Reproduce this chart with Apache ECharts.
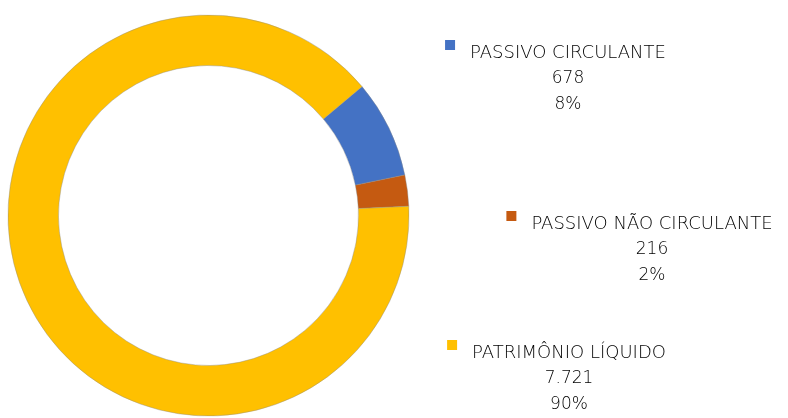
<!DOCTYPE html>
<html>
<head>
<meta charset="utf-8">
<script src="https://cdn.jsdelivr.net/npm/echarts@6/dist/echarts.min.js"></script>
<style>
  html, body { margin: 0; padding: 0; background: #ffffff; }
  #chart { width: 788px; height: 418px; }
</style>
</head>
<body>
<div id="chart"></div>
<script>
// Balance sheet composition (liabilities + equity)
const categories = ['PASSIVO CIRCULANTE', 'PASSIVO NÃO CIRCULANTE', 'PATRIMÔNIO LÍQUIDO'];
const values = [678, 216, 7721];
const percentLabels = ['8%', '2%', '90%'];
const colors = ['#4472C4', '#C55A11', '#FFC000'];

// where each label block sits (centre x, middle-line y)
const labelSpots = [[568, 79], [652, 250], [569, 379]];

const fmtNumber = v => v.toLocaleString('pt-BR');

const chart = echarts.init(document.getElementById('chart'), null, { renderer: 'canvas' });

chart.setOption({
  animation: false,
  series: [{
    type: 'pie',
    center: [208.5, 215.5],
    radius: [150, 200.5],
    startAngle: 40,
    clockwise: true,
    avoidLabelOverlap: false,
    data: categories.map((name, i) => ({
      name,
      value: values[i],
      itemStyle: { color: colors[i] },
      label: {
        rich: {
          sq: { width: 10, height: 10, backgroundColor: colors[i], verticalAlign: 'top' },
          gap: { width: 15 },
          blank: { width: 10 },
          n: { fontSize: 18 },
          v: { fontSize: 17 }
        }
      }
    })),
    itemStyle: { borderColor: 'rgba(140,140,140,0.7)', borderWidth: 0.6 },
    label: {
      show: true,
      position: 'outside',
      color: '#000000',
      fontFamily: 'DejaVu Sans',
      fontWeight: 200,
      fontSize: 17,
      lineHeight: 26,
      align: 'center',
      formatter: p => '{sq|}{gap|}{n|' + p.name + '}{gap|}{blank|}\n{v|' +
        fmtNumber(p.value) + '}\n{v|' + percentLabels[p.dataIndex] + '}'
    },
    labelLine: { show: false },
    labelLayout: params => ({
      x: labelSpots[params.dataIndex][0],
      y: labelSpots[params.dataIndex][1],
      align: 'center',
      verticalAlign: 'middle'
    }),
    emphasis: { disabled: true }
  }]
});
</script>
</body>
</html>
